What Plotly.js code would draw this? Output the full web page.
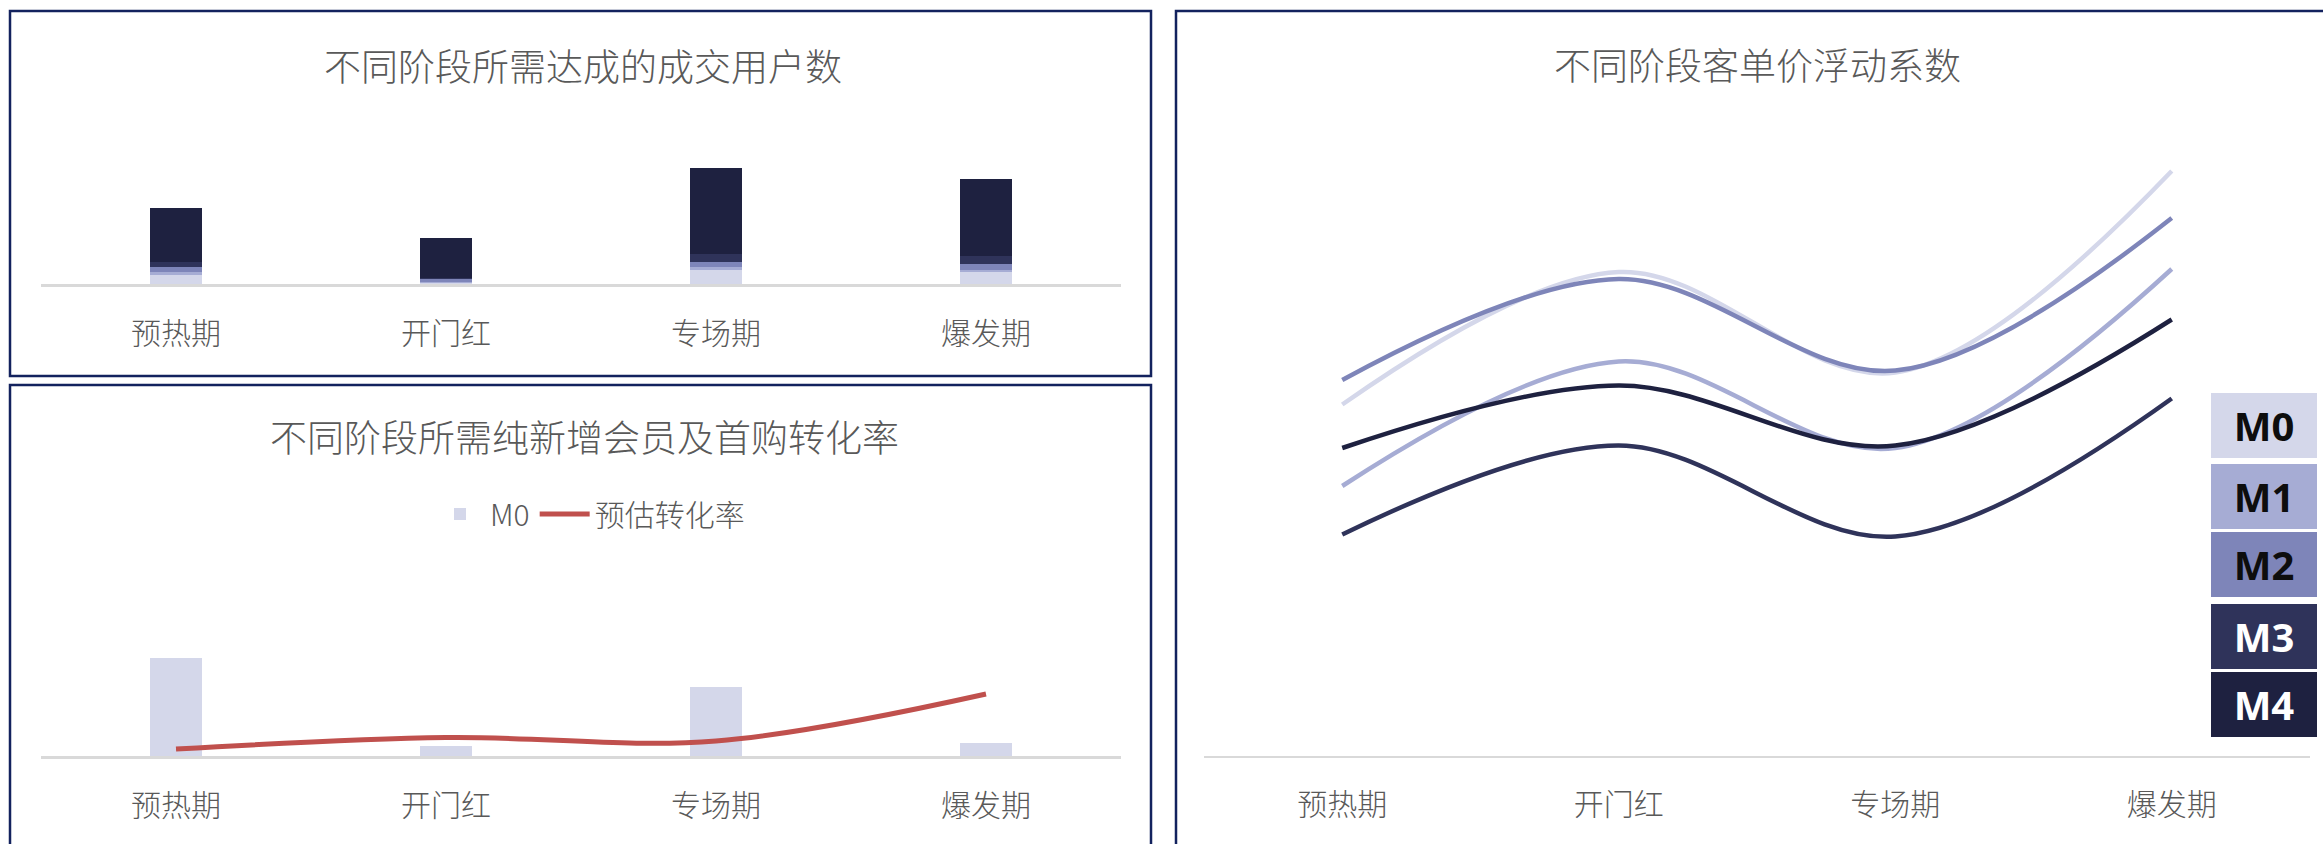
<!DOCTYPE html>
<html>
<head>
<meta charset="utf-8">
<script src="https://cdn.plot.ly/plotly-3.0.1.min.js"></script>
<style>
html,body{margin:0;padding:0;background:#ffffff;}
#chart{width:2323px;height:844px;}
</style>
</head>
<body>
<div id="chart"></div>
<script>
// ---------- data ----------
const categories = ['预热期', '开门红', '专场期', '爆发期'];
const seriesNames = ['M0', 'M1', 'M2', 'M3', 'M4'];

// 不同阶段所需达成的成交用户数 (stacked)
const usersM0 = [930, 150, 1430, 1160];
const usersM1 = [300, 100, 300, 270];
const usersM2 = [500, 230, 500, 570];
const usersM3 = [500, 170, 800, 800];
const usersM4 = [5400, 4000, 8570, 7700];

// 不同阶段所需纯新增会员及首购转化率
const newMembersM0 = [9800, 1000, 6900, 1300];
const convRate = [0.007, 0.0185, 0.015, 0.062];

// 不同阶段客单价浮动系数
const coefM0 = [0.703, 0.968, 0.767, 1.170];
const coefM1 = [0.540, 0.789, 0.616, 0.974];
const coefM2 = [0.752, 0.954, 0.771, 1.076];
const coefM3 = [0.443, 0.621, 0.439, 0.715];
const coefM4 = [0.616, 0.741, 0.621, 0.873];

const titles = ['不同阶段所需达成的成交用户数', '不同阶段所需纯新增会员及首购转化率', '不同阶段客单价浮动系数'];
const legendLineName = '预估转化率';

// ---------- styles ----------
const colors = ['#d4d7ea', '#a6acd4', '#7e85b9', '#2f335a', '#1e2140'];
const labelTextColors = ['#0d0d0d', '#0d0d0d', '#0d0d0d', '#ffffff', '#ffffff'];
const redColor = '#c0504d';
const textGray = '#595959';
const borderColor = '#13225e';
const CJK = '"Noto Sans CJK SC", "Noto Sans", sans-serif';

const W = 2323, H = 844;
const px = v => v / W;
const py = v => 1 - v / H;

const usersSeries = [usersM0, usersM1, usersM2, usersM3, usersM4];
const coefSeries = [coefM0, coefM1, coefM2, coefM3, coefM4];

const traces = [];
usersSeries.forEach((vals, i) => {
  traces.push({
    type: 'bar', x: categories, y: vals, name: seriesNames[i],
    xaxis: 'x', yaxis: 'y', width: 0.19,
    marker: {color: colors[i], line: {width: 0}},
    showlegend: false
  });
});
traces.push({
  type: 'bar', x: categories, y: newMembersM0, name: 'M0',
  xaxis: 'x2', yaxis: 'y2', width: 0.19,
  marker: {color: colors[0], line: {width: 0}},
  showlegend: true
});
traces.push({
  type: 'scatter', mode: 'lines', x: categories, y: convRate, name: legendLineName,
  xaxis: 'x2', yaxis: 'y4',
  line: {color: redColor, width: 5, shape: 'spline', smoothing: 1},
  showlegend: true
});
coefSeries.forEach((vals, i) => {
  traces.push({
    type: 'scatter', mode: 'lines', x: categories, y: vals, name: seriesNames[i],
    xaxis: 'x3', yaxis: 'y3',
    line: {color: colors[i], width: 4.5, shape: 'spline', smoothing: 1},
    showlegend: false
  });
});

function xAxis(domain, lw) {
  return {
    domain: domain, type: 'category', range: [-0.5, 3.5], fixedrange: true,
    showline: true, linecolor: '#d9d9d9', linewidth: lw,
    showgrid: false, zeroline: false, ticks: '',
    ticklabelstandoff: 21,
    tickfont: {family: CJK, size: 30, color: textGray, weight: 300}
  };
}
function yAxis(domain, range, anchor) {
  return {
    domain: domain, range: range, anchor: anchor, fixedrange: true,
    showline: false, showgrid: false, zeroline: false, showticklabels: false, ticks: ''
  };
}

const layout = {
  width: W, height: H,
  margin: {l: 0, r: 0, t: 0, b: 0, pad: 0},
  paper_bgcolor: '#ffffff', plot_bgcolor: 'rgba(0,0,0,0)',
  barmode: 'stack',
  font: {family: CJK, color: textGray},
  xaxis: Object.assign(xAxis([px(41), px(1121)], 3), {anchor: 'y'}),
  yaxis: yAxis([py(284), py(100)], [0, 18400], 'x'),
  xaxis2: Object.assign(xAxis([px(41), px(1121)], 3), {anchor: 'y2'}),
  yaxis2: yAxis([py(756), py(556)], [0, 20000], 'x2'),
  yaxis4: {overlaying: 'y2', anchor: 'x2', range: [0, 0.2], visible: false, fixedrange: true, showgrid: false, zeroline: false},
  xaxis3: Object.assign(xAxis([px(1204), px(2310)], 2), {anchor: 'y3'}),
  yaxis3: yAxis([py(756), py(100)], [0, 1.312], 'x3'),
  showlegend: true,
  legend: {
    orientation: 'h', traceorder: 'normal',
    x: px(590), xanchor: 'center', y: py(514), yanchor: 'middle',
    font: {family: CJK, size: 30, color: textGray, weight: 300},
    bgcolor: 'rgba(0,0,0,0)', itemwidth: 50
  },
  shapes: [
    {type: 'rect', xref: 'paper', yref: 'paper', x0: px(10), x1: px(1151), y0: py(376), y1: py(11), line: {color: borderColor, width: 2.5}, fillcolor: 'rgba(0,0,0,0)'},
    {type: 'rect', xref: 'paper', yref: 'paper', x0: px(10), x1: px(1151), y0: -0.05, y1: py(385), line: {color: borderColor, width: 2.5}, fillcolor: 'rgba(0,0,0,0)'},
    {type: 'rect', xref: 'paper', yref: 'paper', x0: px(1176), x1: 1.05, y0: -0.05, y1: py(11), line: {color: borderColor, width: 2.5}, fillcolor: 'rgba(0,0,0,0)'}
  ],
  annotations: []
};

const titlePos = [[583, 65], [584, 436], [1757, 64]];
titles.forEach((t, i) => {
  layout.annotations.push({
    xref: 'paper', yref: 'paper', x: px(titlePos[i][0]), y: py(titlePos[i][1]),
    xanchor: 'center', yanchor: 'middle', showarrow: false, text: t,
    font: {family: CJK, size: 37, color: textGray, weight: 300}
  });
});

const boxCenters = [425.5, 496.5, 564.5, 636.5, 704.5];
seriesNames.forEach((n, i) => {
  layout.annotations.push({
    xref: 'paper', yref: 'paper', x: px(2264), y: py(boxCenters[i]),
    xanchor: 'center', yanchor: 'middle', showarrow: false,
    text: '<b>' + n + '</b>', width: 106, height: 65, borderpad: 0, borderwidth: 0,
    bgcolor: colors[i], align: 'center', valign: 'middle',
    font: {family: '"Noto Sans", "Open Sans", sans-serif', size: 40, color: labelTextColors[i]}
  });
});

Plotly.newPlot('chart', traces, layout, {displayModeBar: false, staticPlot: true});
</script>
</body>
</html>
